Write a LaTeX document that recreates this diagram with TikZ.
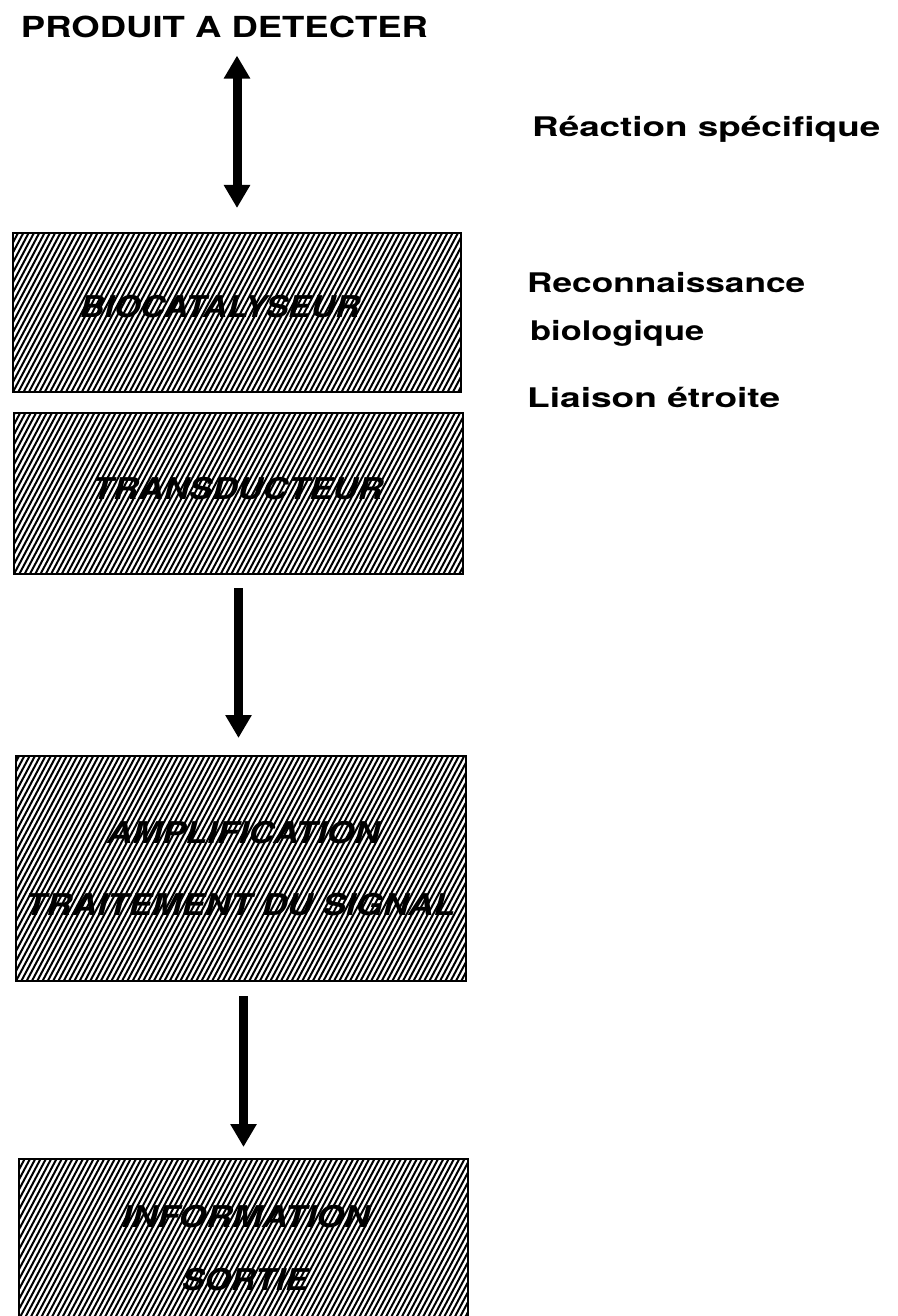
\documentclass[tikz,border=0pt]{standalone}
\usepackage{fontspec}
\setmainfont{TeX Gyre Heros}
\usetikzlibrary{arrows.meta}
\newcommand\fitw[2]{\resizebox{#1}{\height}{#2}}
\tikzset{
  hatchbox/.style={draw, line width=2pt, inner sep=0pt, anchor=north west,
    path picture={\foreach \i in {-30,...,90}{%
      \draw[line width=2pt] ([xshift=\i*5.3pt]path picture bounding box.south west) -- ++(62:320pt);}}},
  boxlabel/.style={inner sep=0pt, anchor=base, font=\fontsize{30}{32}\selectfont\bfseries\itshape},
  sidelabel/.style={inner sep=0pt, anchor=base west, font=\fontsize{27}{30}\selectfont\bfseries},
  titlelabel/.style={inner sep=0pt, anchor=base, font=\fontsize{29}{32}\selectfont\bfseries},
  bigarrow/.style={line width=9pt, -{Triangle[width=25pt,length=23pt]}},
  dblarrow/.style={line width=9pt, {Triangle[width=25pt,length=23pt]}-{Triangle[width=25pt,length=23pt]}},
}
\begin{document}
\begin{tikzpicture}[x=1pt,y=-1pt]
\clip (0,0) rectangle (897,1316);
\fill[white] (0,0) rectangle (897,1316);

% title
\node[titlelabel] (title) at (224.5,38) {\fitw{407pt}{PRODUIT A DETECTER}};

% boxes
\node[hatchbox, minimum width=448pt, minimum height=159pt] (bio) at (12,232) {};
\node[hatchbox, minimum width=449pt, minimum height=161pt] (trans) at (13,412) {};
\node[hatchbox, minimum width=450pt, minimum height=225pt] (ampl) at (15,755) {};
\node[hatchbox, minimum width=449pt, minimum height=190pt] (info) at (18,1158) {};

% box labels
\node[boxlabel] (lbio) at (220,317) {\fitw{280pt}{BIOCATALYSEUR}};
\node[boxlabel] (ltrans) at (237.5,499) {\fitw{291pt}{TRANSDUCTEUR}};
\node[boxlabel] (lampl) at (243.5,843) {\fitw{273pt}{AMPLIFICATION}};
\node[boxlabel] (ltrait) at (240,915) {\fitw{430pt}{TRAITEMENT DU SIGNAL}};
\node[boxlabel] (linfo) at (246,1227) {\fitw{248pt}{INFORMATION}};
\node[boxlabel] (lsort) at (245,1290) {\fitw{126pt}{SORTIE}};

% side labels
\node[sidelabel] (reac) at (532,137) {\fitw{348pt}{Réaction spécifique}};
\node[sidelabel] (reco) at (527,292) {\fitw{278pt}{Reconnaissance}};
\node[sidelabel] (biol) at (530,340) {\fitw{174pt}{biologique}};
\node[sidelabel] (liai) at (527,407) {\fitw{253pt}{Liaison étroite}};

% arrows
\draw[dblarrow, shorten <=17pt, shorten >=24pt] (bio.north |- title.south) -- (bio.north);
\draw[bigarrow, shorten <=13pt, shorten >=17pt] (trans.south) -- (trans.south |- ampl.north);
\draw[bigarrow, shorten <=14pt, shorten >=11pt] (info.north |- ampl.south) -- (info.north);
\end{tikzpicture}
\end{document}
